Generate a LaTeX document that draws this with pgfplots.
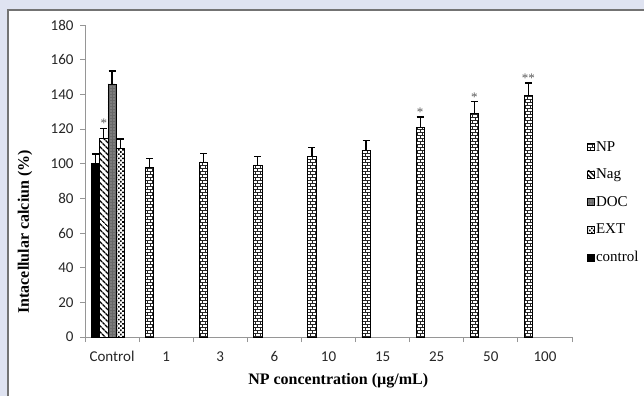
\documentclass[border=0pt]{standalone}
\usepackage{pgfplots}
\pgfplotsset{compat=1.18}
\usepackage{fontspec}
\setmainfont{Liberation Serif}
\newfontfamily\carlito{Carlito}
\usetikzlibrary{patterns,patterns.meta}
\definecolor{bgcol}{RGB}{223,227,241}
\definecolor{axgray}{RGB}{150,150,150}
\definecolor{docgray}{RGB}{105,105,105}
\pgfdeclarepatternformonly{smallbricks}{\pgfpoint{-0.5pt}{-0.5pt}}{\pgfpoint{5.5pt}{6.5pt}}{\pgfpoint{5pt}{6pt}}{%
  \pgfsetlinewidth{0.8pt}%
  \pgfpathmoveto{\pgfpoint{0pt}{0pt}}\pgfpathlineto{\pgfpoint{5pt}{0pt}}%
  \pgfpathmoveto{\pgfpoint{0pt}{3pt}}\pgfpathlineto{\pgfpoint{5pt}{3pt}}%
  \pgfpathmoveto{\pgfpoint{0pt}{0pt}}\pgfpathlineto{\pgfpoint{0pt}{3pt}}%
  \pgfpathmoveto{\pgfpoint{2.5pt}{3pt}}\pgfpathlineto{\pgfpoint{2.5pt}{6pt}}%
  \pgfusepath{stroke}}
\begin{document}
\begin{tikzpicture}
\useasboundingbox (0,0) rectangle (644pt,396pt);
\fill[bgcol] (0,0) rectangle (644pt,396pt);
\fill[white] (8pt,0) rectangle (644pt,386pt);
\draw[black!55, line width=1.6pt] (8pt,0) -- (8pt,386pt) -- (644pt,386pt);
\begin{axis}[
  at={(85pt,59pt)}, anchor=south west,
  scale only axis, width=487pt, height=312pt,
  xmin=-0.5, xmax=8.5, ymin=0, ymax=180,
  axis x line*=bottom, axis y line*=left,
  axis line style={axgray, line width=0.8pt},
  ytick={0,20,...,180},
  xtick={0,...,8},
  xticklabels={Control,1,3,6,10,15,25,50,100},
  minor xtick={-0.5,0.5,...,8.5},
  tick align=outside,
  major tick length=5pt, minor tick length=5pt,
  every major x tick/.append style={draw=none},
  every minor x tick/.append style={axgray, line width=0.8pt},
  every major y tick/.append style={axgray, line width=0.8pt},
  /pgf/number format/assume math mode=true,
  ticklabel style={font=\carlito\fontsize{15}{15}\selectfont, text=black!85},
  xticklabel style={yshift=-6pt},
  yticklabel style={xshift=-3pt},
  xlabel={NP concentration (µg/mL)},
  ylabel={Intacellular calciun (\%)},
  label style={font=\bfseries\fontsize{16}{16}\selectfont},
  xlabel style={at={(axis description cs:0.52,-0.141)}, anchor=center},
  ylabel style={at={(axis description cs:-0.123,0.337)}, anchor=center},
  legend style={at={(axis description cs:1.03,0.633)}, anchor=north west, draw=none, fill=none,
    font=\fontsize{15}{15}\selectfont, row sep=13.2pt, inner sep=0pt,
    nodes={inner sep=1.5pt}},
  legend cell align=left,
  legend image code/.code={\draw[#1, line width=0.7pt] (0pt,-3.5pt) rectangle (7pt,3.5pt);},
  bar width=0.153,
  errs/.style={error bars/.cd, y dir=plus, y explicit,
    error bar style={black, line width=1.3pt},
    error mark options={black, rotate=90, mark size=3.5pt, line width=1.3pt}},
]
% NP
\addplot[ybar, bar shift=0pt, draw=black, line width=0.8pt, pattern=smallbricks, pattern color=black!85, errs]
  coordinates {(0.694,97.7) +- (0,5.2) (1.694,101) +- (0,5) (2.694,99) +- (0,5) (3.694,104) +- (0,5.4)
               (4.694,107.5) +- (0,6) (5.694,121) +- (0,6) (6.694,129) +- (0,6.7) (7.694,139.6) +- (0,7)};
\addlegendentry{NP}
% Nag
\addplot[ybar, bar shift=0pt, draw=black, line width=0.8pt, pattern={Lines[angle=-45, distance=4pt, line width=1.5pt]}, pattern color=black, errs]
  coordinates {(-0.153,114.6) +- (0,5.8)};
\addlegendentry{Nag}
% DOC
\addplot[ybar, bar shift=0pt, draw=black, line width=0.8pt, fill=docgray, postaction={pattern={Dots[radius=0.7pt, distance=3pt]}, pattern color=white!60!docgray}, errs]
  coordinates {(0,146) +- (0,7.5)};
\addlegendentry{DOC}
% EXT
\addplot[ybar, bar shift=0pt, draw=black, line width=0.8pt, pattern={Dots[radius=1.15pt, distance=3pt, angle=45]}, pattern color=black, errs]
  coordinates {(0.153,109) +- (0,5.2)};
\addlegendentry{EXT}
% control
\addplot[ybar, bar shift=0pt, draw=black, line width=0.8pt, fill=black, errs]
  coordinates {(-0.306,100) +- (0,5.5)};
\addlegendentry{control}
% significance marks
\addplot[draw=none, mark=none, forget plot, nodes near coords, point meta=explicit symbolic,
  every node near coord/.append style={anchor=south, inner sep=0.5pt, text=black!65, font=\fontsize{13}{13}\selectfont}]
  table[meta=lab] {
x y lab
-0.153 120.2 *
5.694 126.8 *
6.694 135.5 *
7.694 146.4 **
};
\end{axis}
\end{tikzpicture}
\end{document}
